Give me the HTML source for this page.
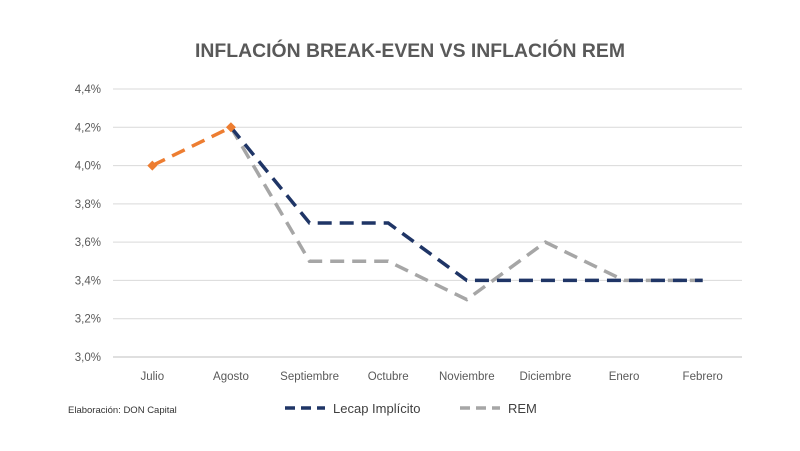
<!DOCTYPE html>
<html><head><meta charset="utf-8"><style>
body{margin:0;background:#fff;}
svg{display:block;font-family:"Liberation Sans",sans-serif;}
</style></head><body>
<svg id="chart" width="800" height="451" viewBox="0 0 800 451">
<text x="410" y="57" text-anchor="middle" font-size="19" font-weight="bold" fill="#595959" textLength="430" lengthAdjust="spacingAndGlyphs">INFLACIÓN BREAK-EVEN VS INFLACIÓN REM</text>
<g id="grid"></g><g id="ylab"></g><g id="xlab"></g><g id="series"></g>
<text x="68" y="413" font-size="9.5" fill="#333">Elaboración: DON Capital</text>
<g>
<line x1="285" y1="408" x2="325" y2="408" stroke="#1f3566" stroke-width="3.5" stroke-dasharray="10,6"/>
<text x="333" y="413" font-size="13" fill="#404040">Lecap Implícito</text>
<line x1="460" y1="408" x2="500" y2="408" stroke="#a6a6a6" stroke-width="3.5" stroke-dasharray="10,6"/>
<text x="508" y="413" font-size="13" fill="#404040">REM</text>
</g>
</svg>
<script>
const categories=["Julio","Agosto","Septiembre","Octubre","Noviembre","Diciembre","Enero","Febrero"];
const yTicks=[3.0,3.2,3.4,3.6,3.8,4.0,4.2,4.4];
const histValues=[4.0,4.2,null,null,null,null,null,null];
const lecapValues=[null,4.2,3.7,3.7,3.4,3.4,3.4,3.4];
const remValues=[null,4.2,3.5,3.5,3.3,3.6,3.4,3.4];
const NS="http://www.w3.org/2000/svg";
const x0=113,x1=742,yTop=89,yBot=357,yMin=3.0,yMax=4.4;
const xs=i=>x0+(x1-x0)/categories.length*(i+0.5);
const ys=v=>yBot-(v-yMin)/(yMax-yMin)*(yBot-yTop);
function mk(t,a,p){const e=document.createElementNS(NS,t);for(const k in a)e.setAttribute(k,a[k]);p.appendChild(e);return e;}
const g=document.getElementById('grid'),yl=document.getElementById('ylab'),xl=document.getElementById('xlab'),sg=document.getElementById('series');
yTicks.forEach(v=>{
 const l=mk('line',{x1:x0,x2:x1,y1:ys(v),y2:ys(v),stroke:v===yMin?'#bfbfbf':'#d9d9d9','stroke-width':1},g);
 
 
 const t=mk('text',{x:101,y:ys(v)+4,'text-anchor':'end','font-size':11.5,fill:'#595959'},yl);
 t.textContent=v.toFixed(1).replace('.',',')+'%';
 
 
});
categories.forEach((c,i)=>{
 const t=mk('text',{x:xs(i),y:380,'text-anchor':'middle','font-size':11.5,fill:'#595959'},xl);
 t.textContent=c;
 
 
});
function line(vals,color,name){
 const pts=[];vals.forEach((v,i)=>{if(v!==null)pts.push(xs(i)+','+ys(v));});
 const p=mk('polyline',{points:pts.join(' '),fill:'none',stroke:color,'stroke-width':3.5,'stroke-dasharray':'14,8'},sg);
 
 
}
line(remValues,'#a6a6a6','rem-line');
line(lecapValues,'#1f3566','lecap-line');
line(histValues,'#ed7d31','historical-line');
histValues.forEach((v,i)=>{if(v===null)return;
 const x=xs(i),y=ys(v);
 const d=mk('polygon',{points:`${x},${y-5} ${x+5},${y} ${x},${y+5} ${x-5},${y}`,fill:'#ed7d31'},sg);
 
 
});
</script>
</body></html>
